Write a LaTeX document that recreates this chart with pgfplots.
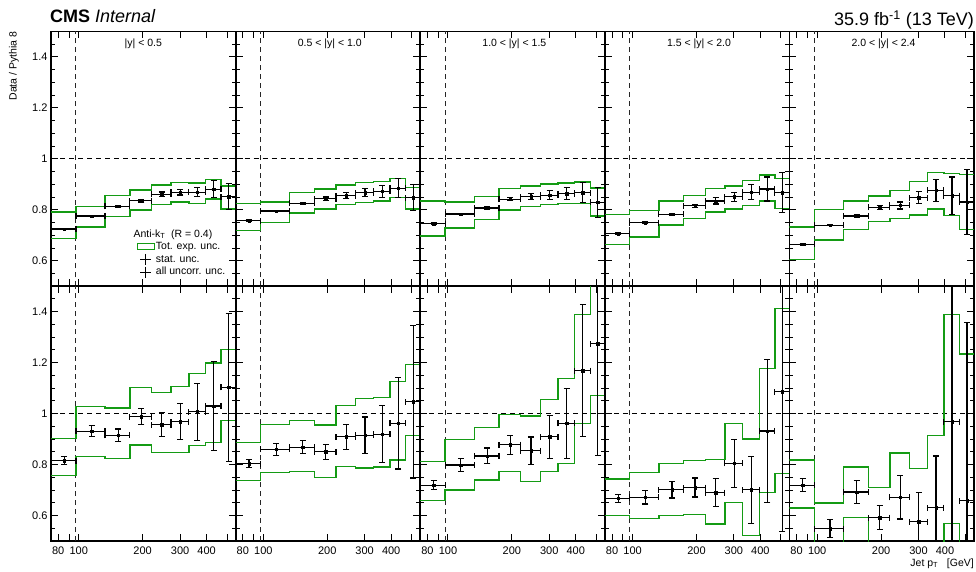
\documentclass[border=0pt]{standalone}
\usepackage{fontspec}
\setmainfont{Liberation Sans}
\usepackage{pgfplots}
\usepackage{pgfplotstable}
\pgfplotsset{compat=1.18}
\definecolor{cmsgreen}{RGB}{20,155,20}

% columns: bin low edge, bin centre, half width, ratio, uncorr. unc., band up, band down
\pgfplotstableread{
lo x ex y e u d
74 85.5 11.5 0.725 0.003 0.792 0.688
97 115 18 0.776 0.003 0.813 0.733
133 153.5 20.5 0.814 0.004 0.856 0.774
174 197 23 0.836 0.005 0.878 0.800
220 246 26 0.861 0.009 0.897 0.821
272 301 29 0.869 0.011 0.907 0.831
330 362.5 32.5 0.869 0.018 0.905 0.826
395 431.5 36.5 0.881 0.034 0.920 0.843
468 508 40 0.852 0.052 0.894 0.804
548 nan nan nan nan 0.894 0.804
}\Tone
\pgfplotstableread{
lo x ex y e u d
74 85.5 11.5 0.757 0.003 0.826 0.718
97 115 18 0.795 0.003 0.831 0.750
133 153.5 20.5 0.825 0.004 0.869 0.788
174 197 23 0.844 0.006 0.882 0.804
220 246 26 0.855 0.012 0.897 0.822
272 301 29 0.868 0.015 0.907 0.829
330 362.5 32.5 0.872 0.023 0.911 0.835
395 431.5 36.5 0.885 0.037 0.923 0.848
468 508 40 0.848 0.052 0.888 0.803
548 nan nan nan nan 0.888 0.803
}\Ttwo
\pgfplotstableread{
lo x ex y e u d
74 85.5 11.5 0.746 0.003 0.834 0.698
97 115 18 0.784 0.003 0.831 0.729
133 153.5 20.5 0.807 0.004 0.852 0.761
174 197 23 0.842 0.006 0.884 0.799
220 246 26 0.852 0.012 0.894 0.814
272 301 29 0.857 0.018 0.901 0.820
330 362.5 32.5 0.864 0.025 0.906 0.824
395 431.5 36.5 0.868 0.040 0.909 0.826
468 508 40 0.829 0.060 0.885 0.775
548 nan nan nan nan 0.885 0.775
}\Tthree
\pgfplotstableread{
lo x ex y e u d
74 85.5 11.5 0.706 0.003 0.782 0.663
97 115 18 0.750 0.003 0.797 0.694
133 153.5 20.5 0.783 0.004 0.834 0.741
174 197 23 0.816 0.006 0.856 0.767
220 246 26 0.835 0.012 0.884 0.792
272 301 29 0.851 0.018 0.894 0.803
330 362.5 32.5 0.869 0.030 0.914 0.816
395 431.5 36.5 0.882 0.047 0.936 0.835
468 508 40 0.868 0.077 0.923 0.805
548 nan nan nan nan 0.923 0.805
}\Tfour
\pgfplotstableread{
lo x ex y e u d
74 85.5 11.5 0.664 0.003 0.732 0.604
97 115 18 0.740 0.003 0.801 0.681
133 153.5 20.5 0.776 0.005 0.834 0.723
174 197 23 0.810 0.008 0.855 0.754
220 246 26 0.817 0.014 0.877 0.765
272 301 29 0.848 0.024 0.911 0.780
330 362.5 32.5 0.876 0.042 0.946 0.803
395 431.5 36.5 0.856 0.073 0.942 0.778
468 508 40 0.831 0.127 0.938 0.723
548 nan nan nan nan 0.938 0.723
}\Tfive
\pgfplotstableread{
lo x ex y e u d
74 85.5 11.5 0.816 0.016 0.903 0.756
97 115 18 0.931 0.021 1.029 0.831
133 153.5 20.5 0.915 0.025 1.022 0.824
174 197 23 0.988 0.031 1.102 0.877
220 246 26 0.957 0.048 1.082 0.847
272 301 29 0.969 0.072 1.107 0.847
330 362.5 32.5 1.007 0.112 1.157 0.875
395 431.5 36.5 1.030 0.175 1.198 0.886
468 508 40 1.103 0.290 1.251 0.973
548 nan nan nan nan 1.251 0.973
}\Bone
\pgfplotstableread{
lo x ex y e u d
74 85.5 11.5 0.803 0.016 0.886 0.737
97 115 18 0.860 0.023 0.957 0.769
133 153.5 20.5 0.868 0.026 0.974 0.773
174 197 23 0.850 0.029 0.956 0.749
220 246 26 0.909 0.049 1.033 0.792
272 301 29 0.915 0.072 1.059 0.786
330 362.5 32.5 0.919 0.112 1.064 0.790
395 431.5 36.5 0.962 0.179 1.126 0.818
468 508 40 1.047 0.300 1.192 0.914
548 nan nan nan nan 1.192 0.914
}\Btwo
\pgfplotstableread{
lo x ex y e u d
74 85.5 11.5 0.719 0.018 0.812 0.660
97 115 18 0.798 0.026 0.898 0.700
133 153.5 20.5 0.834 0.031 0.945 0.740
174 197 23 0.878 0.037 0.997 0.773
220 246 26 0.854 0.054 0.991 0.733
272 301 29 0.909 0.085 1.055 0.773
330 362.5 32.5 0.962 0.137 1.137 0.805
395 431.5 36.5 1.169 0.259 1.390 0.962
468 508 40 1.275 0.440 1.550 1.071
548 nan nan nan nan 1.550 1.071
}\Bthree
\pgfplotstableread{
lo x ex y e u d
74 85.5 11.5 0.667 0.017 0.744 0.600
97 115 18 0.672 0.027 0.769 0.588
133 153.5 20.5 0.701 0.032 0.804 0.599
174 197 23 0.710 0.037 0.816 0.605
220 246 26 0.690 0.055 0.821 0.566
272 301 29 0.805 0.094 0.961 0.651
330 362.5 32.5 0.701 0.131 0.900 0.522
395 431.5 36.5 0.932 0.282 1.178 0.690
468 508 40 1.086 0.550 1.412 0.764
548 nan nan nan nan 1.412 0.764
}\Bfour
\pgfplotstableread{
lo x ex y e u d
74 85.5 11.5 0.719 0.025 0.818 0.629
97 115 18 0.549 0.034 0.649 0.450
133 153.5 20.5 0.692 0.044 0.791 0.592
174 197 23 0.592 0.048 0.711 0.450
220 246 26 0.671 0.085 0.845 0.450
272 301 29 0.575 0.115 0.784 0.450
330 362.5 32.5 0.631 0.203 0.915 0.450
395 431.5 36.5 0.969 0.600 1.390 0.569
468 508 40 0.658 0.700 1.234 0.450
548 nan nan nan nan 1.234 0.450
}\Bfive

\newcommand{\jetpanel}[5]{%
\begin{axis}[scale only axis, width=184.6pt, height=254.75pt,
    anchor=south west, at={(#1,#2)},
    xmode=log, xmin=74, xmax=548, ymin=0.5, ymax=1.5,
    xtick={80,90,100,200,300,400,500},
    xticklabels={80,,100,200,300,400,},
    ytick={0.6,0.8,1,1.2,1.4},
    yticklabels={0.6,0.8,1,1.2,1.4},
    minor ytick={0.55,0.65,0.7,0.75,0.85,0.9,0.95,1.05,1.1,1.15,1.25,1.3,1.35,1.45},
    tick align=inside, tick pos=both,
    major tick length=7pt, minor tick length=4pt,
    axis line style={line width=1.8pt},
    tick style={black, line width=1pt},
    tick label style={font=\fontsize{11}{12}\selectfont},
    xticklabel style={yshift=-2pt},
    #4]
  \addplot[black, dashed, line width=1pt, dash pattern=on 5pt off 4pt, forget plot] coordinates {(74,1) (548,1)};
  \addplot[black!85, dashed, line width=1pt, dash pattern=on 5pt off 4pt, forget plot] coordinates {(97,0.5) (97,1.5)};
  \addplot[const plot mark left, cmsgreen, line width=1.4pt, forget plot] table[x=lo,y=u] {#3};
  \addplot[const plot mark left, cmsgreen, line width=1.4pt, forget plot] table[x=lo,y=d] {#3};
  \addplot[only marks, mark=square*, mark size=1.2pt, black, forget plot,
    error bars/.cd, x dir=both, x explicit, y dir=both, y explicit,
    error bar style={line width=1.2pt, black},
    error mark options={rotate=90, black, line width=1.2pt, mark size=3pt}]
    table[x=x,y=y,x error=ex,y error=e] {#3};
  #5
\end{axis}}

\begin{document}
\begin{tikzpicture}
\path[use as bounding box] (0pt,0pt) rectangle (976pt,571pt);

\jetpanel{51pt}{284.75pt}{\Tone}{xticklabels={},
  legend style={at={(0.464,0.1765)}, anchor=north west, draw=none, fill=none,
    inner sep=0pt, row sep=1.8pt, column sep=1pt, font=\fontsize{10.5}{12}\selectfont,
    nodes={inner sep=0pt, text height=8pt, text depth=2.5pt}},
  legend cell align=left}{%
  \addlegendimage{area legend, draw=cmsgreen, fill=white, line width=1pt}
  \addlegendentry{Tot. exp. unc.}
  \addlegendimage{only marks, mark=+, mark size=5.5pt, black, line width=1pt}
  \addlegendentry{stat. unc.}
  \addlegendimage{only marks, mark=+, mark size=5.5pt, black, line width=1pt}
  \addlegendentry{all uncorr. unc.}
  \node[anchor=base west, font=\fontsize{10.5}{12}\selectfont, inner sep=0pt] at (rel axis cs:0.446,0.192) {Anti-k\textsubscript{T}\ \ (R = 0.4)};
  \node[font=\fontsize{10.5}{12}\selectfont] at (rel axis cs:0.5,0.951) {|y| < 0.5};
}
\jetpanel{235.6pt}{284.75pt}{\Ttwo}{xticklabels={},yticklabels={}}{\node[font=\fontsize{10.5}{12}\selectfont] at (rel axis cs:0.51,0.951) {0.5 < |y| < 1.0};}
\jetpanel{420.2pt}{284.75pt}{\Tthree}{xticklabels={},yticklabels={}}{\node[font=\fontsize{10.5}{12}\selectfont] at (rel axis cs:0.51,0.951) {1.0 < |y| < 1.5};}
\jetpanel{604.8pt}{284.75pt}{\Tfour}{xticklabels={},yticklabels={}}{\node[font=\fontsize{10.5}{12}\selectfont] at (rel axis cs:0.51,0.951) {1.5 < |y| < 2.0};}
\jetpanel{789.4pt}{284.75pt}{\Tfive}{xticklabels={},yticklabels={}}{\node[font=\fontsize{10.5}{12}\selectfont] at (rel axis cs:0.51,0.951) {2.0 < |y| < 2.4};}

\jetpanel{51pt}{30pt}{\Bone}{}{}
\jetpanel{235.6pt}{30pt}{\Btwo}{yticklabels={}}{}
\jetpanel{420.2pt}{30pt}{\Bthree}{yticklabels={}}{}
\jetpanel{604.8pt}{30pt}{\Bfour}{yticklabels={}}{}
\jetpanel{789.4pt}{30pt}{\Bfive}{yticklabels={}}{}

\node[anchor=base west, font=\fontsize{18}{20}\selectfont, inner sep=0pt] at (50pt,548.3pt) {\textbf{CMS} \textit{Internal}};
\node[anchor=base east, font=\fontsize{18}{20}\selectfont, inner sep=0pt] at (974pt,545pt) {35.9 fb\textsuperscript{-1} (13 TeV)};
\node[rotate=90, anchor=base east, font=\fontsize{10.5}{12}\selectfont, inner sep=0pt] at (16.5pt,539.5pt) {Data / Pythia 8};
\node[anchor=base east, font=\fontsize{10.5}{12}\selectfont, inner sep=0pt] at (974pt,5pt) {Jet p\textsubscript{T}\ \ \ [GeV]};
\end{tikzpicture}
\end{document}
